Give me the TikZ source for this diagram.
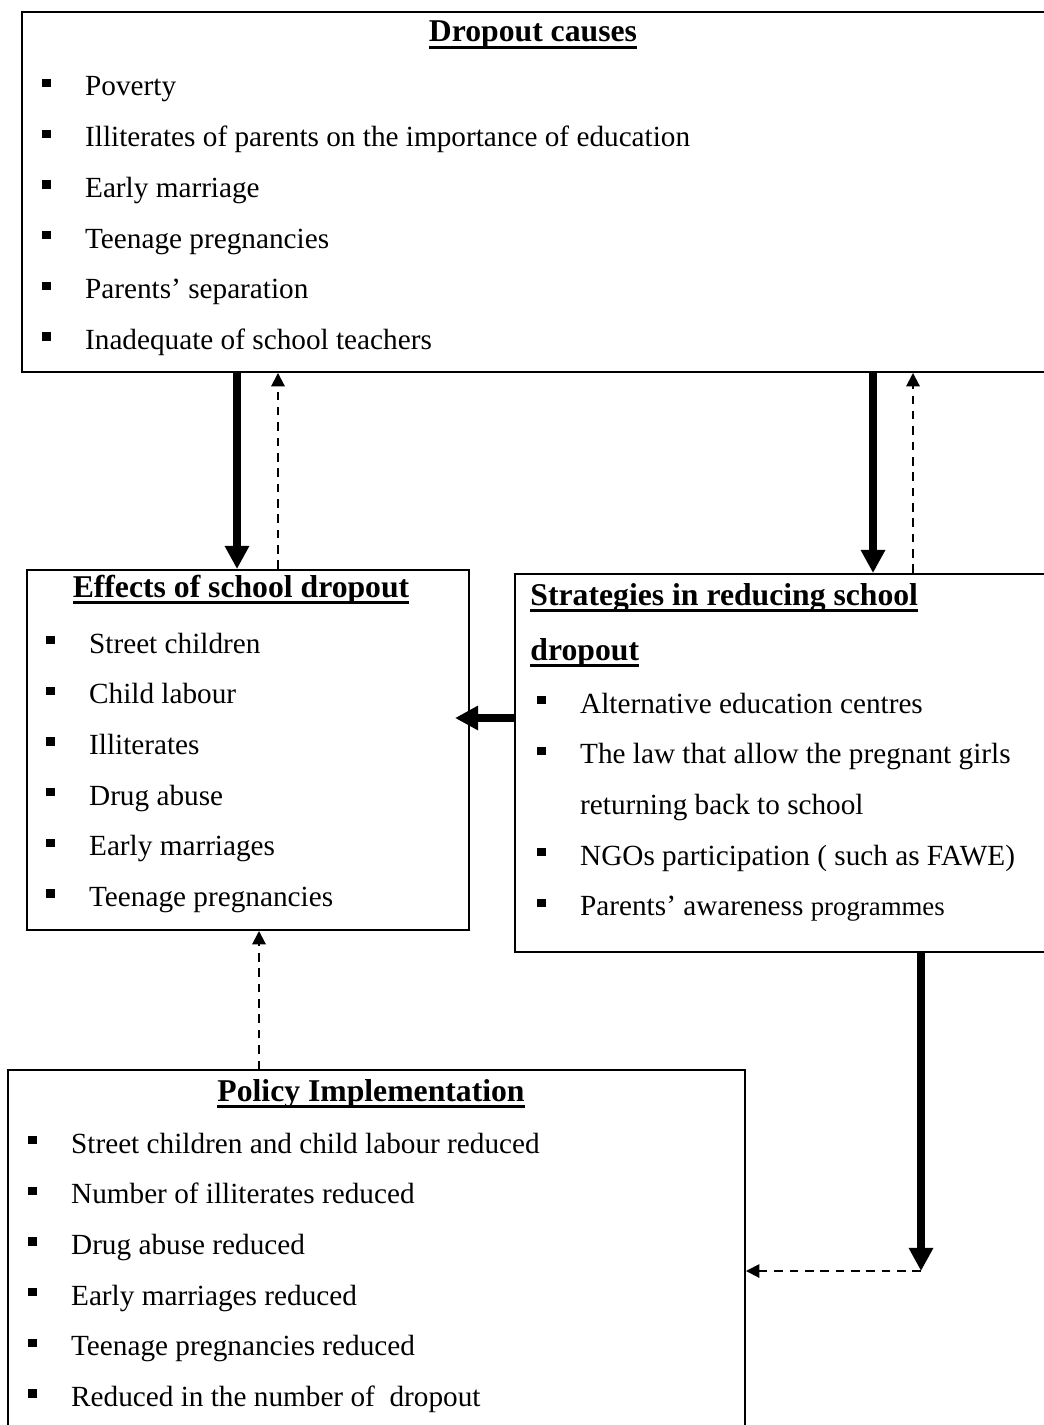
\documentclass[tikz,border=0pt]{standalone}
\usepackage{fontspec}
\setmainfont{Liberation Serif}
\usetikzlibrary{arrows.meta}
\usetikzlibrary{positioning}
\usetikzlibrary{fit}

% square bullet in front of each line
\newcommand{\blt}{\makebox[17.5pt][l]{\rule[3.6pt]{3.4pt}{3.4pt}}}
\newcommand{\nblt}{\hspace*{17.5pt}}
% heading with a heavy underline
\newcommand{\uhead}[1]{\setbox0\hbox{#1}\rlap{\copy0}\rule[-2.7pt]{\wd0}{1.1pt}}

\tikzset {
  % outline of a box
  box/.style = {
    draw = black,
    line width = 0.8pt,
    inner sep = 0
  },
  % underlined heading of a box
  head/.style = {
    inner sep = 0,
    anchor = base,
    font = \fontsize{13}{15}\selectfont\bfseries
  },
  % one line of a list
  item/.style = {
    inner sep = 0,
    anchor = base west,
    font = \fontsize{12}{14}\selectfont
  },
  below item/.style = {
    below = of #1.base west,
    anchor = base west
  },
  node distance = 20.8pt
}
\tikzset {
  % heavy arrow
  arr/.style = {
    draw = black,
    line width = 3pt,
    -{Triangle[length=9.5pt, width=9.5pt]}
  },
  % dashed return arrow
  darr/.style = {
    draw = black,
    line width = 0.8pt,
    dash pattern = on 3.5pt off 2.8pt,
    -{Triangle[length=5.5pt, width=5.5pt]}
  }
}

\begin{document}
\begin{tikzpicture}[x=0.4103pt, y=-0.4103pt]
    \useasboundingbox (0,0) rectangle (1043,1425);

    \node[box, fit={(22,12) (1080,372)}] (causes) {};
    \node[head] (causes-head) at (533,42) {\uhead{Dropout causes}};
    \node[item] (cause1) at (42,96) {\blt Poverty};
    \node[item, below item=cause1] (cause2) {\blt Illiterates of parents on the importance of education};
    \node[item, below item=cause2] (cause3) {\blt Early marriage};
    \node[item, below item=cause3] (cause4) {\blt Teenage pregnancies};
    \node[item, below item=cause4] (cause5) {\blt Parents’ separation};
    \node[item, below item=cause5] (cause6) {\blt Inadequate of school teachers};

    \node[box, fit={(27,570) (469,930)}] (effects) {};
    \node[head] (effects-head) at (241,597) {\uhead{Effects of school dropout}};
    \node[item] (effect1) at (46,653) {\blt Street children};
    \node[item, below item=effect1] (effect2) {\blt Child labour};
    \node[item, below item=effect2] (effect3) {\blt Illiterates};
    \node[item, below item=effect3] (effect4) {\blt Drug abuse};
    \node[item, below item=effect4] (effect5) {\blt Early marriages};
    \node[item, below item=effect5] (effect6) {\blt Teenage pregnancies};

    \node[box, fit={(515,574) (1080,952)}] (strategies) {};
    \node[head, anchor=base west] (strategies-head) at (530,605) {\uhead{Strategies in reducing school}};
    \node[head, anchor=base west] (strategies-head2) at (530,660) {\uhead{dropout}};
    \node[item] (strategy1) at (537,713) {\blt Alternative education centres};
    \node[item, below item=strategy1] (strategy2) {\blt The law that allow the pregnant girls};
    \node[item, below item=strategy2] (strategy2b) {\nblt returning back to school};
    \node[item, below item=strategy2b] (strategy3) {\blt NGOs participation ( such as FAWE)};
    \node[item, below item=strategy3] (strategy4) {\blt Parents’ awareness {\fontsize{11}{13}\selectfont programmes}};

    \node[box, fit={(8,1070) (745,1450)}] (policy) {};
    \node[head] (policy-head) at (371,1101) {\uhead{Policy Implementation}};
    \node[item] (result1) at (28,1153) {\blt Street children and child labour reduced};
    \node[item, below item=result1] (result2) {\blt Number of illiterates reduced};
    \node[item, below item=result2] (result3) {\blt Drug abuse reduced};
    \node[item, below item=result3] (result4) {\blt Early marriages reduced};
    \node[item, below item=result4] (result5) {\blt Teenage pregnancies reduced};
    \node[item, below item=result5] (result6) {\blt Reduced in the number of\ \ dropout};

    \coordinate (col1) at (237,0);
    \coordinate (col2) at (278,0);
    \coordinate (col3) at (873,0);
    \coordinate (col4) at (913,0);
    \coordinate (col5) at (259,0);
    \coordinate (left-tip) at (455,718);
    \coordinate (turn) at (921,1271);

    \draw[arr] (causes.south -| col1) -- (effects.north -| col1);
    \draw[darr] (effects.north -| col2) -- (causes.south -| col2);
    \draw[arr] (causes.south -| col3) -- (strategies.north -| col3);
    \draw[darr] (strategies.north -| col4) -- (causes.south -| col4);
    \draw[arr] (strategies.west |- left-tip) -- (left-tip);
    \draw[arr] (strategies.south -| turn) -- (turn);
    \draw[darr] (turn) -- (policy.east |- turn);
    \draw[darr] (policy.north -| col5) -- (effects.south -| col5);
  \end{tikzpicture}
\end{document}
